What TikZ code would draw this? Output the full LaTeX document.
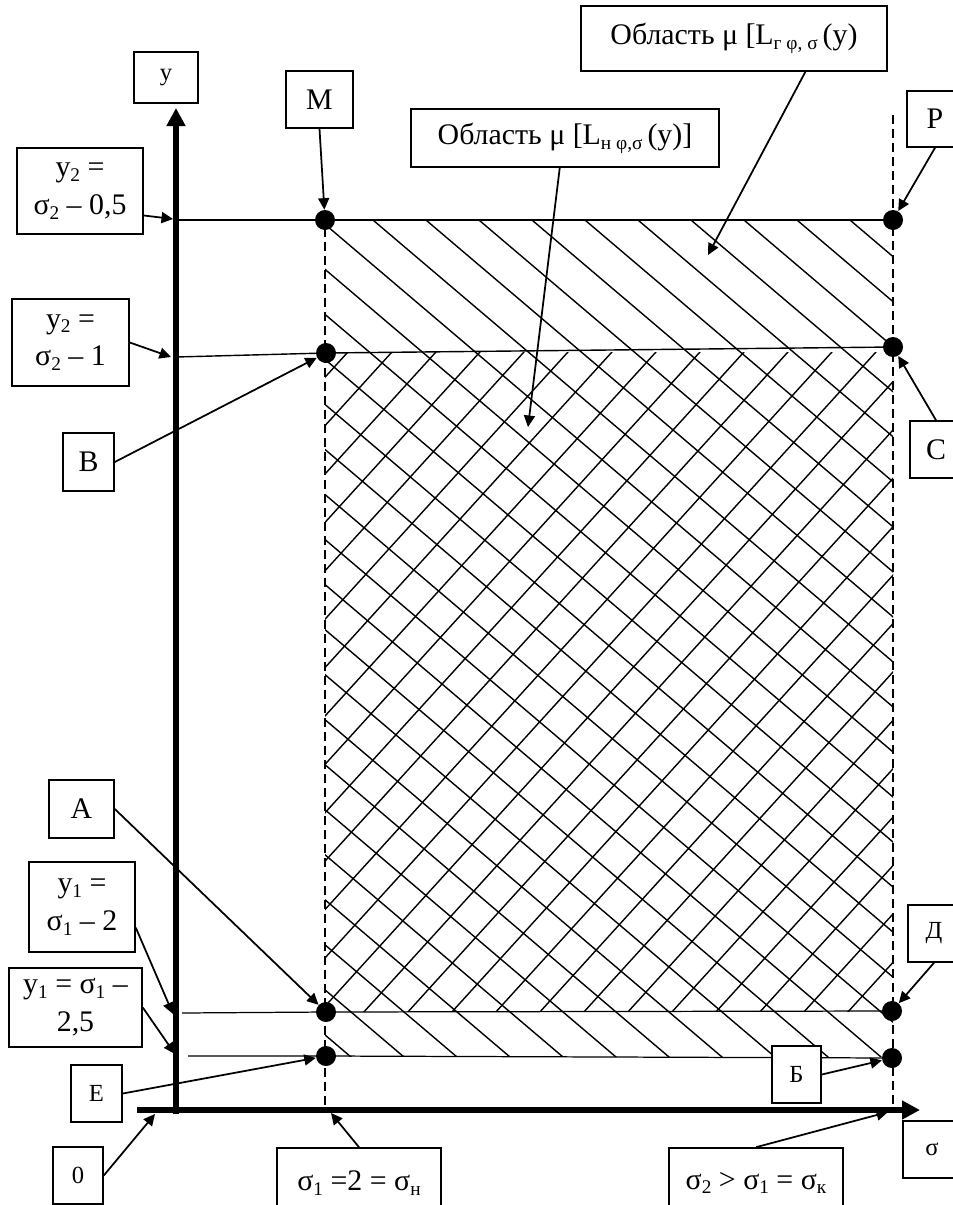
\documentclass[tikz,border=0pt]{standalone}
\usepackage{fontspec}
\setmainfont{Liberation Serif}
\usetikzlibrary{arrows.meta}
\newcommand{\lblfont}{\fontsize{17}{21.5}\selectfont}
\newcommand{\lblsmall}{\fontsize{14}{16}\selectfont}
\newcommand{\subix}[1]{\raisebox{-0.35ex}{\fontsize{11}{11}\selectfont #1}}

\tikzset{
	lbl/.style={draw, fill=white, line width=0.9pt, inner sep=0pt, align=center, font=\lblfont},
	lblsm/.style={lbl, font=\lblsmall},
	sz/.style 2 args={minimum width=#1*0.2mm, minimum height=#2*0.2mm},
	ptdot/.style={circle, fill=black, inner sep=0pt, minimum size=4mm},
	pointer/.style={line width=1pt, -{Triangle[length=2.3mm,width=2.2mm]}},
	hatch/.style={line width=0.8pt},
	guide/.style={line width=0.8pt, dash pattern=on 1.8mm off 1mm},
	axisline/.style={line width=3.6pt, -{Triangle[length=3.6mm,width=3.6mm]}}
}

\begin{document}
\begin{tikzpicture}[x=0.2mm, y=-0.2mm]
	\useasboundingbox (0,0) rectangle (953,1205);
	% points on the region border
	\foreach \n/\x/\y in {dM/325/220, dP/893/220, dV/326/353, dS/893/347, dA/326/1012, dD/892/1011, dE/326/1056, dB/892/1058} {
		\node[ptdot] (\n) at (\x,\y) {};
	}
	% hatching
	\begin{scope}
		\clip (325,220) rectangle (893,1056);
		\foreach \k in {-19,...,10} {\draw[hatch] ({114+53*\k},0) -- ++(1530,1300);}
	\end{scope}
	\begin{scope}
		\clip (325,352) rectangle (893,1011);
		\foreach \k in {0,...,26} {\draw[hatch] ({668+44*\k},0) -- ++(-1182,1300);}
	\end{scope}
	\draw[guide] (325,228) -- (325,1110);
	\draw[guide] (893,115) -- (893,1108);
	\coordinate (yl1) at (176,220);
	\coordinate (yl2) at (176,357);
	\coordinate (yl3) at (182,1013);
	\coordinate (yl4) at (188,1056);
	\draw[line width=0.8pt] (yl1) -- (dM.center) -- (dP.center);
	\draw[line width=0.8pt] (yl2) -- (dV.center) -- (dS.center);
	\draw[line width=0.7pt] (yl3) -- (dA.center) -- (dD.center);
	\draw[line width=0.7pt] (yl4) -- (dE.center) -- (dB.center);
	% axes
	\coordinate (orig) at (176,1110);
	\draw[axisline] (176,1114) -- (176,108);
	\draw[axisline] (137,1110) -- (920,1110);
	% labels
	\foreach \n/\t/\x/\y/\w/\h in {boxM/М/319.5/99.5/67/57, boxP/Р/935/119/56/56, boxV/В/88.5/462/51/58, boxS/С/936/449.5/52/57, boxA/А/81.5/809/65/58} {
		\node[lbl, sz={\w}{\h}] (\n) at (\x,\y) {\t};
	}
	\foreach \n/\t/\x/\y/\w/\h in {boxY/y/166/77.5/64/51, boxE/Е/96.5/1093.5/51/57, boxO/0/78/1175.5/50/57, boxSig/σ/932/1149.5/58/57, boxD/Д/934/933.5/52/57, boxB/Б/796.5/1074.5/49/57} {
		\node[lblsm, sz={\w}{\h}] (\n) at (\x,\y) {\t};
	}
	\node[lbl, sz={306}{65}] (regG) at (734,38.5) {Область μ [L\subix{г  φ, σ}\,(y)};
	\node[lbl, sz={308}{58}] (regN) at (565,138) {Область μ [L\subix{н φ,σ}\,(y)]};
	\node[lbl, sz={126}{86}] (y2a) at (80,191) {y\subix{2} =\\σ\subix{2} – 0,5};
	\node[lbl, sz={117}{87}] (y2b) at (70.5,342.5) {y\subix{2} =\\σ\subix{2} – 1};
	\node[lbl, sz={106}{90}] (y1a) at (82,907) {y\subix{1} =\\σ\subix{1} – 2};
	\node[lbl, sz={133}{79}] (y1b) at (75.5,1007.5) {y\subix{1} = σ\subix{1} –\\2,5};
	\node[lbl, sz={164}{70}] (sg1) at (359,1183) {σ\subix{1} =2 = σ\subix{н}};
	\node[lbl, sz={174}{70}] (sg2) at (756,1183) {σ\subix{2} > σ\subix{1} = σ\subix{к}};
	% pointers
	\coordinate (ax1) at (173,219);
	\coordinate (ax2) at (171,357);
	\coordinate (ax3) at (173,1014);
	\coordinate (ax4) at (175,1054);
	\coordinate (gEnd) at (708,255);
	\coordinate (nEnd) at (528,427);
	\coordinate (o1) at (155,1114);
	\coordinate (s1End) at (331,1113);
	\coordinate (s2End) at (888,1112);
	\draw[pointer] (y2a.-21) -- (ax1);
	\draw[pointer] (y2b.east) -- (ax2);
	\draw[pointer] (y1a.-21) -- (ax3);
	\draw[pointer] (y1b.east) -- (ax4);
	\draw[pointer] (boxM.south) -- (dM);
	\draw[pointer] (boxP.south) -- (dP);
	\draw[pointer] (regG.-25) -- (gEnd);
	\draw[pointer] (regN.-100) -- (nEnd);
	\draw[pointer] (boxV.east) -- (dV);
	\draw[pointer] (boxS.north) -- (dS);
	\draw[pointer] (boxA.east) -- (dA);
	\draw[pointer] (boxE.east) -- (dE);
	\draw[pointer] (boxO.east) -- (o1);
	\draw[pointer] (sg1.north) -- (s1End);
	\draw[pointer] (sg2.north) -- (s2End);
	\draw[pointer] (boxB.east) -- (dB);
	\draw[pointer] (boxD.south) -- (dD);
\end{tikzpicture}
\end{document}
